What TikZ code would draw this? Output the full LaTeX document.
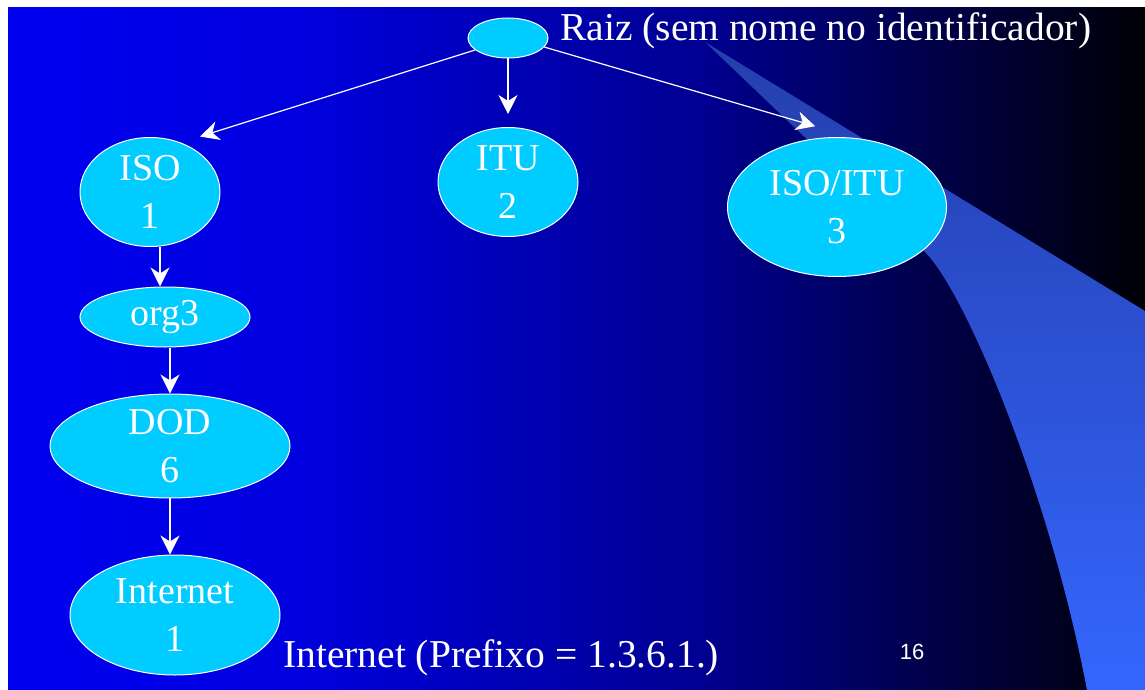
\documentclass[tikz,border=0pt]{standalone}
\usepackage{fontspec}
\setmainfont{Liberation Serif}
\newfontfamily\numfont{Liberation Sans}
\usepackage{tikz}
\usetikzlibrary{arrows.meta,shapes.geometric}
\usepackage{xcolor}

\definecolor{slideblue}{RGB}{0,0,240}
\definecolor{midblue}{RGB}{0,0,222}
\definecolor{darkblue}{RGB}{0,0,145}
\definecolor{nightblue}{RGB}{0,0,6}
\definecolor{oidcyan}{RGB}{0,204,255}
\definecolor{beamtop}{RGB}{36,62,172}
\definecolor{beammid}{RGB}{48,92,232}
\definecolor{beambot}{RGB}{52,102,254}

\begin{document}
\begin{tikzpicture}[x=1pt, y=-1pt,
    oid/.style={ellipse, draw=white, line width=1pt, fill=oidcyan, text=white,
      inner sep=0pt, align=center, font=\fontsize{38}{48}\selectfont},
    arr/.style={white, line width=1.2pt, -{Stealth[length=19pt, width=19pt, inset=6pt]}},
    txt/.style={text=white, inner sep=0pt, font=\fontsize{39.5}{48}\selectfont}]

  % Frame and background
  \useasboundingbox (0,0) rectangle (1145,690);
  \fill[white] (0,0) rectangle (1145,690);
  \shade[left color=slideblue, right color=midblue] (8,8) rectangle (301,690);
  \shade[left color=midblue, right color=darkblue] (300,8) rectangle (701,690);
  \shade[left color=darkblue, right color=nightblue] (700,8) rectangle (1145,690);

  % Light beam
  \shade[top color=beamtop, middle color=beammid, bottom color=beambot]
    (705,42) -- (1145,311) -- (1145,690) -- (1087,690)
    .. controls (1049,490) and (965,292) .. (925,252) -- cycle;

  % Tree nodes
  \node[oid, minimum width=80pt, minimum height=40pt] (root) at (508,38) {};
  \node[txt, anchor=base west] (rootname) at (560,41) {Raiz (sem nome no identificador)};
  \node[oid, minimum width=140pt, minimum height=109pt] (iso) at (150,192) {ISO\\1};
  \node[oid, minimum width=140pt, minimum height=109pt] (itu) at (508,182) {ITU\\2};
  \node[oid, minimum width=219pt, minimum height=139pt] (isoitu) at (837,207) {ISO/ITU\\3};
  \node[oid, minimum width=170pt, minimum height=60pt] (org3) at (165,317) {org3};
  \node[oid, minimum width=240pt, minimum height=98pt] (dod) at (170,446) {DOD\\6};
  \node[oid, minimum width=210pt, minimum height=120pt] (internet) at (175,615) {Internet\\1};

  % Footer
  \node[txt, anchor=base west] (prefix) at (283,667) {Internet (Prefixo = 1.3.6.1.)};
  \node[text=white, inner sep=0pt, font=\numfont\fontsize{22}{24}\selectfont] (pagenum) at (912,652) {16};

  % Arrows
  \draw[arr, shorten >=20pt] (root.200) -- (iso.58);
  \draw[arr, shorten >=13pt] (root) -- (itu);
  \draw[arr, shorten >=42pt] (root.346) -- (isoitu.75);
  \draw[arr] ([xshift=10pt]iso.south) -- ([xshift=-5pt]org3.north);
  \draw[arr] ([xshift=5pt]org3.south) -- (dod.north);
  \draw[arr] (dod.south) -- ([xshift=-5pt]internet.north);

\end{tikzpicture}
\end{document}
